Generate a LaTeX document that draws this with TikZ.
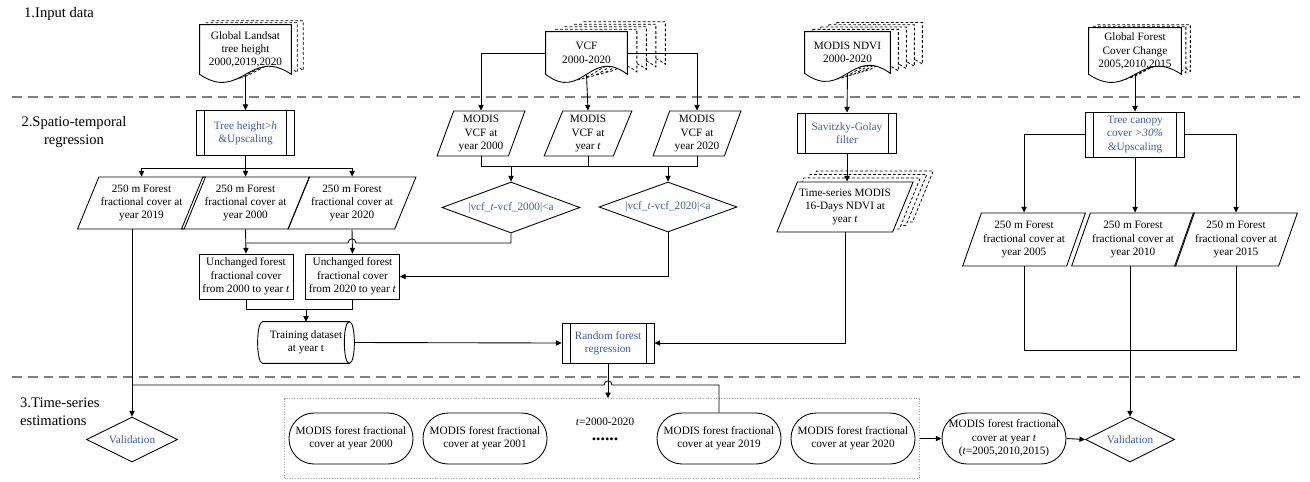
\documentclass[tikz,border=0pt]{standalone}
\usepackage{fontspec}
\setmainfont{Liberation Serif}
\usetikzlibrary{arrows.meta,shapes.geometric,fit,calc,backgrounds}
\definecolor{flowBlue}{RGB}{62,92,160}
\definecolor{flowGrey}{RGB}{128,128,128}
\definecolor{frameGrey}{RGB}{165,165,165}
\newcommand{\flowfont}{\fontsize{6.4}{7.6}\selectfont}
\newcommand{\stagefont}{\fontsize{8.3}{10.3}\selectfont}
% page outline with a wavy lower edge, shifted by (#2,#3)
\newcommand{\docoutline}[3]{%
  ($(#1.north west)+(#2,#3)$) -- ($(#1.north east)+(#2,#3)$) -- ($(#1.south east)+(#2,#3)$)
  .. controls ($(#1.south west)!0.55!(#1.south east)+(#2,#3-28)$)
  and ($(#1.south west)!0.45!(#1.south east)+(#2,#3+28)$) .. ($(#1.south west)+(#2,#3)$) -- cycle}
% parallelogram outline, shifted by (#2,#3)
\newcommand{\paraoutline}[3]{%
  ($(#1.bottom left corner)+(#2,#3)$) -- ($(#1.top left corner)+(#2,#3)$)
  -- ($(#1.top right corner)+(#2,#3)$) -- ($(#1.bottom right corner)+(#2,#3)$) -- cycle}
% lying drum around a rectangular node
\newcommand{\drumoutline}[1]{%
  ($(#1.north west)+(5,0)$) -- ($(#1.north east)+(-5,0)$)
  .. controls +(6.7,0) and +(6.7,0) .. ($(#1.south east)+(-5,0)$)
  .. controls +(-6.7,0) and +(-6.7,0) .. ($(#1.north east)+(-5,0)$)
  ($(#1.south east)+(-5,0)$) -- ($(#1.south west)+(5,0)$)
  .. controls +(-6.7,0) and +(-6.7,0) .. ($(#1.north west)+(5,0)$)}

\begin{document}
\begin{tikzpicture}[x=0.02cm, y=-0.02cm,
  every node/.style={font=\flowfont},
  stage/.style={font=\stagefont},
  docbox/.style={rectangle, align=center, inner sep=0pt},
  backpage/.style={draw, line width=0.45pt, dash pattern=on 1.6pt off 1.2pt, fill=white},
  process/.style={
    draw, line width=0.5pt, rectangle,
    minimum width=1.96cm, minimum height=0.9cm,
    align=center, inner sep=1pt, text=flowBlue,
    path picture={
      \draw[black, line width=0.5pt]
        ([xshift=0.16cm]path picture bounding box.north west) -- ([xshift=0.16cm]path picture bounding box.south west)
        ([xshift=-0.16cm]path picture bounding box.north east) -- ([xshift=-0.16cm]path picture bounding box.south east);
    }
  },
  data/.style 2 args={
    draw, line width=0.5pt, trapezium, trapezium stretches=true,
    trapezium left angle=#1, trapezium right angle=#2,
    align=center, inner sep=1pt
  },
  decision/.style={draw, line width=0.5pt, diamond, aspect=2.7, inner sep=0pt, text=flowBlue},
  plain/.style={draw, line width=0.5pt, rectangle, align=center, inner sep=1pt, minimum width=1.88cm, minimum height=0.9cm},
  store/.style={rectangle, align=center, inner sep=1pt, minimum width=1.92cm, minimum height=0.82cm},
  terminal/.style={draw, line width=0.5pt, rectangle, rounded corners=0.5cm, minimum width=2.48cm, minimum height=1.02cm, align=center, inner sep=0pt},
  arrow/.style={-{Triangle[length=3.2pt,width=3pt]}, line width=0.5pt},
  link/.style={line width=0.5pt},
  divider/.style={flowGrey, line width=1.1pt, dash pattern=on 5.6pt off 3.4pt},
  groupbox/.style={draw=frameGrey, line width=0.5pt, densely dotted, inner xsep=0.08cm, inner ysep=0.28cm}
]
\useasboundingbox (0,0) rectangle (1310,481);

% stages
\draw[divider] (12,97) -- (1300,97);
\draw[divider] (12,377) -- (1300,377);
\node[stage, anchor=west] (sec1) at (18,14) {1.Input data};
\node[stage, align=center] (sec2) at (74,132) {2.Spatio-temporal\\regression};
\node[stage, align=left, anchor=west] (sec3) at (14,412) {3.Time-series\\estimations};

% input data
\node[docbox, minimum width=1.82cm, minimum height=0.98cm] (landsat) at (245.5,49.5) {Global Landsat\\tree height\\2000,2019,2020};
\node[docbox, minimum width=1.62cm, minimum height=0.84cm] (vcf) at (586.5,53) {VCF\\2000-2020};
\node[docbox, minimum width=1.70cm, minimum height=0.82cm] (ndvi) at (847.5,52.5) {MODIS NDVI\\2000-2020};
\node[docbox, minimum width=1.84cm, minimum height=0.92cm] (gfcc) at (1135,51) {Global Forest\\Cover Change\\2005,2010,2015};

% spatio-temporal regression
\node[process] (thresh) at (245.5,133) {Tree height>\textit{h}\\\&Upscaling};
\node[process, minimum width=1.98cm, minimum height=0.8cm] (sgfilter) at (847,133) {Savitzky-Golay\\filter};
\node[process, minimum width=1.98cm] (canopy) at (1135,134.5) {Tree canopy\\cover \textit{>30\%}\\\&Upscaling};

\node[data={62}{118}, minimum width=2.32cm, minimum height=1.04cm] (fc2019) at (141.5,203) {250 m Forest\\fractional cover at\\year 2019};
\node[data={62}{118}, minimum width=2.32cm, minimum height=1.04cm] (fc2000) at (245.5,203) {250 m Forest\\fractional cover at\\year 2000};
\node[data={62}{118}, minimum width=2.32cm, minimum height=1.04cm] (fc2020) at (352,203) {250 m Forest\\fractional cover at\\year 2020};

\node[data={70}{110}, minimum width=1.76cm, minimum height=0.9cm] (vcf2000) at (481,133.5) {MODIS\\VCF at\\year 2000};
\node[data={70}{110}, minimum width=1.76cm, minimum height=0.9cm] (vcft) at (588,133.5) {MODIS\\VCF at\\year \textit{t}};
\node[data={70}{110}, minimum width=1.76cm, minimum height=0.9cm] (vcf2020) at (697,133.5) {MODIS\\VCF at\\year 2020};

\node[decision, minimum width=2.76cm, minimum height=1.02cm] (dif2000) at (511,207.5) {|vcf\_\textit{t}-vcf\_2000|<a};
\node[decision, minimum width=2.76cm, minimum height=1.0cm] (dif2020) at (668,207) {|vcf\_\textit{t}-vcf\_2020|<a};

\node[plain] (unc2000) at (246,276.5) {Unchanged forest\\fractional cover\\from 2000 to year \textit{t}};
\node[plain] (unc2020) at (352.5,276.5) {Unchanged forest\\fractional cover\\from 2020 to year \textit{t}};
\node[store] (train) at (306,342.5) {Training dataset\\at year t};

\node[data={63}{117}, minimum width=2.52cm, minimum height=1.0cm] (ndvits) at (845,207) {Time-series MODIS\\16-Days NDVI at\\year \textit{t}};
\node[process, minimum width=1.84cm, minimum height=0.8cm] (rf) at (608,343) {Random forest\\regression};

\node[data={65}{115}, minimum width=2.32cm, minimum height=1.06cm] (fc2005) at (1024,239.5) {250 m Forest\\fractional cover at\\year 2005};
\node[data={65}{115}, minimum width=2.32cm, minimum height=1.06cm] (fc2010) at (1133,239.5) {250 m Forest\\fractional cover at\\year 2010};
\node[data={65}{115}, minimum width=2.32cm, minimum height=1.06cm] (fc2015) at (1236,239.5) {250 m Forest\\fractional cover at\\year 2015};

% time-series estimations
\node[decision, minimum width=1.82cm, minimum height=0.9cm] (val1) at (132,439.5) {Validation};
\node[decision, minimum width=1.78cm, minimum height=0.9cm] (val2) at (1130,439.5) {Validation};
\node[terminal] (est2000) at (351,438.5) {MODIS forest fractional\\cover at year 2000};
\node[terminal] (est2001) at (485,438.5) {MODIS forest fractional\\cover at year 2001};
\node (tlabel) at (605,422) {\textit{t}=2000-2020};
\node[font=\fontsize{10}{10}\selectfont\bfseries, inner sep=0pt] (dotrow) at (605,439) {......};
\node[terminal] (est2019) at (719,438.5) {MODIS forest fractional\\cover at year 2019};
\node[terminal] (est2020) at (853,438.5) {MODIS forest fractional\\cover at year 2020};
\node[groupbox, fit=(est2000)(est2020)] (group) {};
\node[terminal] (estt) at (1004,438.5) {MODIS forest fractional\\cover at year \textit{t}\\(\textit{t}=2005,2010,2015)};

% stacked pages behind the inputs
\begin{pgfonlayer}{background}
  \foreach \k in {2,1} \path[backpage] \docoutline{landsat}{\k*6}{-\k*2};
  \fill[white] \docoutline{landsat}{0}{0};
  \foreach \k in {4,3,2,1} \path[backpage] \docoutline{vcf}{\k*9.5}{-\k*2.5};
  \fill[white] \docoutline{vcf}{0}{0};
  \foreach \k in {4,3,2,1} \path[backpage] \docoutline{ndvi}{\k*8}{-\k*2.3};
  \fill[white] \docoutline{ndvi}{0}{0};
  \foreach \k in {2,1} \path[backpage] \docoutline{gfcc}{\k*4.5}{-\k*1.5};
  \fill[white] \docoutline{gfcc}{0}{0};
  \foreach \k in {3,2,1} \path[backpage] \paraoutline{ndvits}{\k*6.5}{-\k*3.5};
  \fill[white] \paraoutline{ndvits}{0}{0};
\end{pgfonlayer}
\draw[link] \docoutline{landsat}{0}{0};
\draw[link] \docoutline{vcf}{0}{0};
\draw[link] \docoutline{ndvi}{0}{0};
\draw[link] \docoutline{gfcc}{0}{0};
\draw[link] \drumoutline{train};

\coordinate (rowT) at (0,168);
\coordinate (rowV) at (0,166);
\coordinate (rowA) at (0,243);
\coordinate (rowU) at (0,309);
\coordinate (busA) at (0,385);

% connectors
\draw[arrow] (landsat.south) -- (thresh.north);
\draw[arrow] (thresh.south) -- (fc2000.north);
\draw[arrow] (thresh.south) |- (rowT -| fc2019.north) -- (fc2019.north);
\draw[arrow] (thresh.south) |- (rowT -| fc2020.north) -- (fc2020.north);

\draw[arrow] (vcf.west) -| (vcf2000.north);
\draw[arrow] (vcf.south) -- (vcft.north);
\draw[arrow] (vcf.east) -| (vcf2020.north);
\draw[link] (vcf2000.south) |- (rowV -| vcf2020.south) -- (vcf2020.south);
\draw[link] (vcft.south) -- (vcft.south |- rowV);
\draw[arrow] (dif2000.north |- rowV) -- (dif2000.north);
\draw[arrow] (dif2020.north |- rowV) -- (dif2020.north);

\draw[arrow] (fc2000.south) -- (unc2000.north);
\draw[arrow] (fc2020.south) -- (unc2020.north);
\draw[link] (dif2000.south) |- ($(fc2020.south |- rowA)+(4,0)$)
  .. controls +(0,-5.5) and +(0,-5.5) .. ($(fc2020.south |- rowA)+(-4,0)$) -- (fc2000.south |- rowA);
\draw[arrow] (dif2020.south) |- (unc2020.east);
\draw[link] (unc2000.south) |- (rowU -| unc2020.south) -- (unc2020.south);
\draw[arrow] (train.north |- rowU) -- (train.north);

\draw[arrow] (ndvi.south) -- (sgfilter.north);
\draw[arrow] (sgfilter.south) -- (sgfilter.south |- ndvits.north);
\draw[arrow] (ndvits.south) |- (rf.east);
\draw[arrow] (train.east) -- (rf.west);

\draw[arrow] (gfcc.south) -- (canopy.north);
\draw[arrow] (canopy.west) -| (fc2005.north);
\draw[arrow] (canopy.south) -- (canopy.south |- fc2010.north);
\draw[arrow] (canopy.east) -| (fc2015.north);
\draw[link] (fc2005.south) -- ++(0,84) -| (fc2015.south);
\draw[arrow] (val2.north |- fc2010.south) -- (val2.north);

\draw[arrow] (val1.north |- fc2019.south) -- (val1.north);
\draw[arrow] (rf.south) -- (rf.south |- group.north);
\draw[link] (est2019.north) |- ($(rf.south |- busA)+(4,0)$)
  .. controls +(0,-5.5) and +(0,-5.5) .. ($(rf.south |- busA)+(-4,0)$) -- (val1.north |- busA);
\draw[arrow] (group.east |- estt.west) -- (estt.west);
\draw[arrow] (estt.east) -- (val2.west);
\end{tikzpicture}
\end{document}
